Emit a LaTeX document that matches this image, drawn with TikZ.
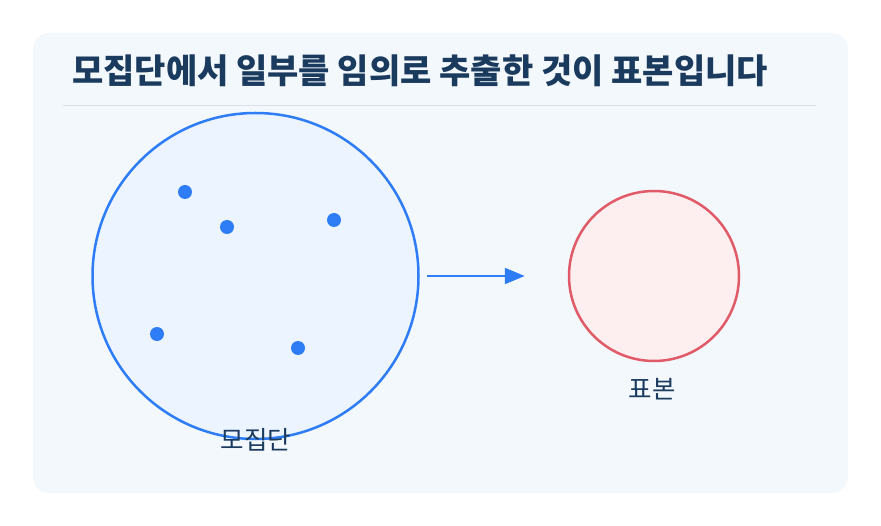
\documentclass[tikz,border=0pt]{standalone}
\usepackage{fontspec}
\setmainfont{Noto Sans CJK KR}
\usepackage{tikz}
\usetikzlibrary{arrows.meta, positioning}

\definecolor{panelbg}{HTML}{F3F8FD}
\definecolor{ruleline}{HTML}{D8E1EA}
\definecolor{navytext}{HTML}{1A3A5E}
\definecolor{popblue}{HTML}{2E7CF6}
\definecolor{popfill}{HTML}{EBF4FF}
\definecolor{samplered}{HTML}{E05A68}
\definecolor{samplefill}{HTML}{FDEEF0}

\begin{document}
\begin{tikzpicture}[
    x=1pt, y=-1pt,
    popcircle/.style={circle, draw=popblue, fill=popfill, line width=2.5pt, inner sep=0pt, minimum size=326pt},
    samplecircle/.style={circle, draw=samplered, fill=samplefill, line width=2.5pt, inner sep=0pt, minimum size=170pt},
    dot/.style={circle, fill=popblue, inner sep=0pt, minimum size=14pt},
    caption/.style={text=navytext, font=\fontsize{25.5}{30}\selectfont, inner sep=0pt},
    titletext/.style={text=navytext, font=\bfseries\fontsize{34}{40}\selectfont, inner sep=0pt, anchor=west},
    ]

    \useasboundingbox (0,0) rectangle (881,526);
    \fill[white] (0,0) rectangle (881,526);
    \fill[panelbg, rounded corners=16pt] (33,33) rectangle (848,493);

    \node[titletext]      (title)    at (72,71)                  {모집단에서 일부를 임의로 추출한 것이 표본입니다};
    \draw[ruleline, line width=0.8pt] (63,105) -- (816,105);

    \node[popcircle]      (population) at (255.5,276)            {};
    \node[samplecircle]   (sample)   [right=148pt of population] {};

    \node[dot]            (d1)       at (185,192)                {};
    \node[dot]            (d2)       at (227,227)                {};
    \node[dot]            (d3)       at (334,220)                {};
    \node[dot]            (d4)       at (157,334)                {};
    \node[dot]            (d5)       at (298,348)                {};

    \node[caption]        (poplabel) at (256,440)                {모집단};
    \node[caption]        (samplelabel) at (652,389)             {표본};

    \draw[-{Triangle[length=20pt, width=16pt]}, popblue, line width=2.2pt, shorten <=7pt, shorten >=43pt]
        (population) -- (sample);

\end{tikzpicture}
\end{document}
